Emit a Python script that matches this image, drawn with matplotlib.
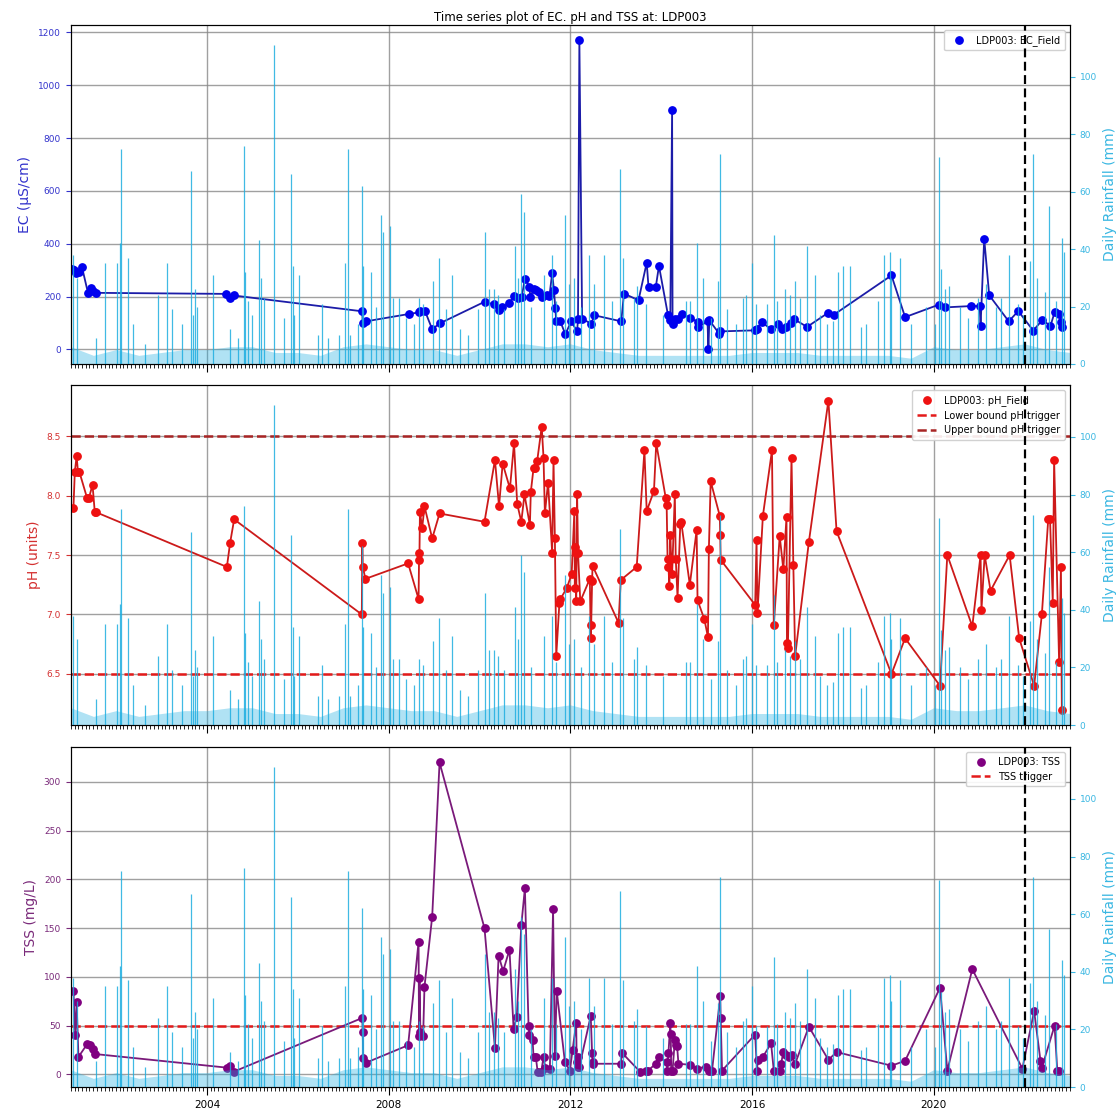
import matplotlib
matplotlib.use('Agg')
import matplotlib.pyplot as plt
import matplotlib.dates as mdates
from datetime import datetime, timedelta

# ---------------- data (decimal years) ----------------
ec_years = [2001.03, 2001.07, 2001.12, 2001.18, 2001.25, 2001.38, 2001.45, 2001.49, 2001.55,
            2004.43, 2004.51, 2004.59, 2007.42, 2007.43, 2007.50, 2008.45, 2008.67, 2008.70,
            2008.80, 2008.96, 2009.12, 2010.11, 2010.33, 2010.44, 2010.50, 2010.66, 2010.76,
            2010.84, 2010.93, 2011.00, 2011.10, 2011.12, 2011.20, 2011.25, 2011.30, 2011.37,
            2011.48, 2011.54, 2011.60, 2011.64, 2011.67, 2011.69, 2011.78, 2011.89, 2012.02,
            2012.15, 2012.17, 2012.20, 2012.26, 2012.46, 2012.53, 2013.12, 2013.18, 2013.50,
            2013.68, 2013.72, 2013.88, 2013.95, 2014.15, 2014.20, 2014.24, 2014.25, 2014.30,
            2014.38, 2014.45, 2014.64, 2014.80, 2014.82, 2015.02, 2015.04, 2015.06, 2015.28,
            2015.30, 2016.07, 2016.10, 2016.22, 2016.41, 2016.57, 2016.66, 2016.75, 2016.86,
            2016.93, 2017.21, 2017.68, 2017.80, 2019.07, 2019.37, 2020.11, 2020.26, 2020.83,
            2021.01, 2021.03, 2021.11, 2021.22, 2021.65, 2021.86, 2022.19, 2022.39, 2022.57,
            2022.66, 2022.76, 2022.81, 2022.83]
ec_values = [305, 300, 290, 292, 310, 214, 233, 220, 214,
             210, 194, 204, 144, 98, 106, 134, 140, 146,
             146, 76, 98, 180, 170, 150, 159, 177, 201,
             195, 200, 266, 238, 198, 230, 224, 217, 198,
             204, 202, 288, 224, 155, 106, 106, 57, 106,
             68, 116, 1170, 116, 97, 129, 106, 211, 186,
             328, 236, 236, 316, 129, 110, 908, 97, 116,
             116, 135, 119, 104, 85, 106, 3, 110, 59,
             68, 72, 78, 104, 76, 97, 78, 85, 101,
             114, 85, 139, 131, 280, 122, 169, 159, 164,
             164, 88, 419, 205, 106, 145, 71, 111, 89,
             140, 134, 102, 83]

ph_years = [2001.06, 2001.09, 2001.13, 2001.16, 2001.19, 2001.36, 2001.40, 2001.48, 2001.53, 2001.56,
            2004.44, 2004.51, 2004.60, 2007.41, 2007.42, 2007.43, 2007.49, 2008.43, 2008.66, 2008.67,
            2008.68, 2008.69, 2008.74, 2008.79, 2008.96, 2009.12, 2010.11, 2010.34, 2010.43, 2010.51,
            2010.67, 2010.76, 2010.83, 2010.92, 2010.99, 2011.11, 2011.13, 2011.19, 2011.23, 2011.27,
            2011.37, 2011.41, 2011.44, 2011.51, 2011.60, 2011.63, 2011.66, 2011.69, 2011.76, 2011.78,
            2011.92, 2012.03, 2012.09, 2012.10, 2012.11, 2012.12, 2012.13, 2012.15, 2012.17, 2012.22,
            2012.43, 2012.45, 2012.46, 2012.48, 2012.49, 2013.06, 2013.11, 2013.46, 2013.63, 2013.68,
            2013.84, 2013.89, 2014.10, 2014.12, 2014.14, 2014.16, 2014.18, 2014.20, 2014.22, 2014.24,
            2014.30, 2014.32, 2014.36, 2014.42, 2014.44, 2014.63, 2014.78, 2014.80, 2014.95, 2015.03,
            2015.05, 2015.09, 2015.29, 2015.30, 2015.31, 2016.07, 2016.10, 2016.12, 2016.24, 2016.44,
            2016.48, 2016.61, 2016.69, 2016.76, 2016.77, 2016.79, 2016.87, 2016.91, 2016.95, 2017.25,
            2017.68, 2017.86, 2019.07, 2019.37, 2020.14, 2020.30, 2020.85, 2021.03, 2021.05, 2021.12,
            2021.25, 2021.67, 2021.88, 2022.21, 2022.38, 2022.52, 2022.56, 2022.62, 2022.65, 2022.76,
            2022.80, 2022.82]
ph_values = [7.90, 8.20, 8.33, 8.20, 8.20, 7.98, 7.98, 8.09, 7.86, 7.86,
             7.40, 7.60, 7.80, 7.00, 7.60, 7.40, 7.30, 7.43, 7.13, 7.46,
             7.52, 7.86, 7.73, 7.91, 7.64, 7.85, 7.78, 8.30, 7.91, 8.27,
             8.06, 8.44, 7.93, 7.78, 8.01, 7.75, 8.03, 8.23, 8.23, 8.29,
             8.58, 8.32, 7.85, 8.11, 7.52, 8.30, 7.64, 6.65, 7.10, 7.13,
             7.22, 7.34, 7.87, 7.22, 7.57, 7.52, 7.11, 8.01, 7.52, 7.11,
             7.30, 6.80, 6.91, 7.28, 7.41, 6.93, 7.29, 7.40, 8.38, 7.87,
             8.04, 8.44, 7.98, 7.92, 7.47, 7.40, 7.24, 7.67, 7.47, 7.34,
             8.01, 7.47, 7.14, 7.76, 7.78, 7.25, 7.71, 7.12, 6.96, 6.81,
             7.55, 8.12, 7.83, 7.67, 7.46, 7.08, 7.63, 7.01, 7.83, 8.38,
             6.91, 7.66, 7.38, 7.82, 6.76, 6.72, 8.32, 7.42, 6.65, 7.61,
             8.80, 7.70, 6.50, 6.80, 6.40, 7.50, 6.90, 7.50, 7.04, 7.50,
             7.20, 7.50, 6.80, 6.40, 7.00, 7.80, 7.80, 7.10, 8.30, 6.60,
             7.40, 6.20]

tss_years = [2001.06, 2001.10, 2001.13, 2001.17, 2001.36, 2001.42, 2001.48, 2001.53,
             2004.44, 2004.51, 2004.60, 2007.42, 2007.43, 2007.44, 2007.50, 2008.43, 2008.66,
             2008.67, 2008.68, 2008.70, 2008.76, 2008.79, 2008.96, 2009.12, 2010.11, 2010.34,
             2010.42, 2010.52, 2010.66, 2010.75, 2010.82, 2010.92, 2011.00, 2011.08, 2011.10,
             2011.17, 2011.19, 2011.24, 2011.28, 2011.36, 2011.41, 2011.45, 2011.55, 2011.62,
             2011.66, 2011.70, 2011.88, 2011.99, 2012.05, 2012.13, 2012.14, 2012.16, 2012.18,
             2012.20, 2012.45, 2012.48, 2012.49, 2012.50, 2013.11, 2013.14, 2013.53, 2013.67,
             2013.71, 2013.88, 2013.94, 2014.12, 2014.13, 2014.16, 2014.20, 2014.21, 2014.22,
             2014.25, 2014.30, 2014.33, 2014.35, 2014.38, 2014.63, 2014.79, 2014.98, 2015.06,
             2015.12, 2015.30, 2015.31, 2015.34, 2016.07, 2016.11, 2016.13, 2016.24, 2016.42,
             2016.48, 2016.61, 2016.64, 2016.69, 2016.75, 2016.81, 2016.87, 2016.95, 2017.25,
             2017.68, 2017.86, 2019.07, 2019.37, 2020.14, 2020.30, 2020.85, 2021.95, 2022.21,
             2022.35, 2022.38, 2022.66, 2022.72, 2022.76]
tss_values = [86, 40, 74, 18, 31, 30, 26, 21,
              7, 9, 3, 58, 44, 17, 12, 30, 136,
              39, 99, 44, 39, 90, 162, 320, 150, 27,
              122, 106, 128, 47, 59, 153, 191, 50, 40,
              35, 18, 18, 3, 3, 18, 7, 6, 170,
              19, 86, 13, 4, 25, 53, 13, 18, 8,
              8, 60, 22, 13, 11, 11, 22, 3, 4,
              4, 11, 18, 13, 4, 22, 53, 42, 4,
              4, 35, 30, 29, 11, 10, 6, 8, 4,
              4, 80, 58, 4, 41, 4, 15, 18, 32,
              4, 4, 11, 23, 20, 18, 20, 11, 49,
              15, 23, 9, 14, 89, 4, 108, 6, 65,
              14, 7, 50, 4, 4]

rain_years = [2001.06, 2001.14, 2001.55, 2001.75, 2002.02, 2002.08, 2002.11, 2002.27, 2002.38,
              2002.64, 2002.92, 2003.13, 2003.23, 2003.45, 2003.64, 2003.69, 2003.74, 2003.79,
              2004.13, 2004.50, 2004.68, 2004.82, 2004.84, 2004.90, 2004.99, 2005.14, 2005.19,
              2005.26, 2005.48, 2005.69, 2005.84, 2005.89, 2005.92, 2006.03, 2006.44, 2006.54,
              2006.66, 2006.91, 2007.05, 2007.10, 2007.16, 2007.32, 2007.42, 2007.44, 2007.62,
              2007.72, 2007.83, 2007.88, 2008.02, 2008.10, 2008.22, 2008.38, 2008.57, 2008.66,
              2008.75, 2008.98, 2009.10, 2009.26, 2009.39, 2009.56, 2009.74, 2009.96, 2010.11,
              2010.22, 2010.33, 2010.40, 2010.55, 2010.78, 2010.84, 2010.92, 2010.97, 2011.14,
              2011.42, 2011.60, 2011.69, 2011.89, 2011.97, 2012.09, 2012.24, 2012.41, 2012.52,
              2012.74, 2012.91, 2013.10, 2013.15, 2013.41, 2013.47, 2013.67, 2014.04, 2014.55,
              2014.64, 2014.79, 2014.93, 2015.10, 2015.25, 2015.30, 2015.45, 2015.65, 2015.81,
              2015.87, 2016.00, 2016.09, 2016.33, 2016.48, 2016.55, 2016.72, 2016.83, 2016.95,
              2017.05, 2017.22, 2017.38, 2017.49, 2017.64, 2017.78, 2017.89, 2018.00, 2018.15,
              2018.40, 2018.50, 2018.77, 2018.90, 2019.04, 2019.06, 2019.26, 2019.51, 2019.82,
              2020.02, 2020.11, 2020.17, 2020.24, 2020.33, 2020.58, 2020.75, 2020.98, 2021.16,
              2021.38, 2021.47, 2021.65, 2021.86, 2021.97, 2022.12, 2022.19, 2022.28, 2022.45,
              2022.54, 2022.70, 2022.82, 2022.86]
rain_mm = [38, 30, 9, 35, 35, 42, 75, 37, 14,
           7, 24, 35, 19, 14, 67, 17, 26, 20,
           31, 12, 9, 76, 32, 22, 17, 43, 30,
           23, 111, 16, 66, 34, 17, 31, 10, 21,
           9, 10, 35, 75, 10, 14, 62, 34, 32,
           20, 52, 46, 48, 23, 23, 16, 14, 23,
           21, 29, 37, 19, 31, 12, 10, 19, 46,
           26, 26, 24, 19, 41, 30, 59, 53, 20,
           31, 38, 22, 52, 28, 30, 20, 38, 28,
           38, 22, 68, 37, 23, 27, 21, 17, 22,
           22, 42, 30, 16, 29, 73, 19, 14, 23,
           24, 35, 21, 21, 45, 22, 26, 24, 29,
           23, 41, 31, 17, 14, 15, 32, 34, 34,
           13, 14, 22, 38, 39, 30, 37, 14, 20,
           14, 72, 33, 26, 27, 20, 16, 23, 28,
           20, 23, 38, 21, 17, 36, 73, 30, 25,
           55, 22, 44, 39]

# dense low-rainfall band (typical daily heights per half-year, mm)
band_years = [2001.0 + 0.5 * i for i in range(45)]
band_mm = [6, 3, 5, 3, 4, 5, 5, 6, 6, 4, 4, 3, 6, 7, 6, 5, 5, 3, 5, 7, 7, 6, 7, 5,
           4, 3, 3, 3, 3, 3, 4, 4, 4, 3, 3, 3, 3, 2, 6, 5, 5, 6, 7, 5, 4]

ph_low, ph_high, tss_trigger = 6.5, 8.5, 50
cutoff_year = 2022.0


def to_date(y):
    yr = int(y)
    return datetime(yr, 1, 1) + timedelta(days=(y - yr) * 365.25)


ec_d = [to_date(y) for y in ec_years]
ph_d = [to_date(y) for y in ph_years]
tss_d = [to_date(y) for y in tss_years]
rain_d = [to_date(y) for y in rain_years]
band_d = [to_date(y) for y in band_years]
cut_d = to_date(cutoff_year)

RAIN = '#1eaee0'
RAIN_TXT = '#3ab7e2'

fig = plt.figure(figsize=(11.19, 11.11), dpi=100)
L, W = 0.0632, 0.893
rects = [(L, 0.6724, W, 0.3051), (L, 0.3474, W, 0.306), (L, 0.0216, W, 0.306)]
axes = [fig.add_axes(r) for r in rects]

specs = [
    dict(d=ec_d, v=ec_values, mc='#0000ee', lc='#1c1ca8', lab='EC (µS/cm)', tc='#3333cc',
         leg='LDP003: EC_Field'),
    dict(d=ph_d, v=ph_values, mc='#ee1111', lc='#cc1a1a', lab='pH (units)', tc='#d43030',
         leg='LDP003: pH_Field'),
    dict(d=tss_d, v=tss_values, mc='#800080', lc='#7a1a7a', lab='TSS (mg/L)', tc='#7a2a7a',
         leg='LDP003: TSS'),
]

for i, (ax, s) in enumerate(zip(axes, specs)):
    ax.plot(s['d'], s['v'], color=s['lc'], lw=1.3, zorder=3)
    ax.scatter(s['d'], s['v'], color=s['mc'], s=28, zorder=4, label=s['leg'])
    if i == 1:
        ax.axhline(ph_low, color='#e41a1a', ls='--', lw=1.8, label='Lower bound pH trigger')
        ax.axhline(ph_high, color='#a82424', ls='--', lw=1.8, label='Upper bound pH trigger')
    if i == 2:
        ax.axhline(tss_trigger, color='#e41a1a', ls='--', lw=1.8, label='TSS trigger')
    ax.set_xlim(datetime(2001, 1, 1), datetime(2023, 1, 1))
    ax.grid(True, color='#888888', lw=1.0, alpha=0.8)
    ax.set_ylabel(s['lab'], color=s['tc'], fontsize=10)
    ax.tick_params(axis='y', colors=s['tc'], labelsize=6.5)
    ax.xaxis.set_major_locator(mdates.YearLocator(4))
    ax.xaxis.set_minor_locator(mdates.MonthLocator())
    ax.xaxis.set_major_formatter(mdates.DateFormatter('%Y'))
    ax.tick_params(axis='x', which='major', length=6, labelsize=7.5)
    ax.tick_params(axis='x', which='minor', length=3)
    if i < 2:
        ax.tick_params(axis='x', labelbottom=False)
    ax.legend(loc='upper right', fontsize=7, framealpha=0.9, borderpad=0.5)

    ax2 = ax.twinx()
    ax2.fill_between(band_d, 0, band_mm, color=RAIN, alpha=0.35, lw=0)
    ax2.vlines(rain_d, 0, rain_mm, colors=RAIN, lw=0.9, alpha=0.85)
    ax2.axvline(cut_d, color='black', ls=(0, (4, 2)), lw=1.6)
    ax2.set_ylim(0, 118)
    ax2.set_xlim(datetime(2001, 1, 1), datetime(2023, 1, 1))
    ax2.set_ylabel('Daily Rainfall (mm)', color=RAIN_TXT, fontsize=10)
    ax2.tick_params(axis='y', colors=RAIN_TXT, labelsize=6.5)

axes[0].set_title('Time series plot of EC. pH and TSS at: LDP003', fontsize=8.5, pad=3)

fig.savefig('out.png', dpi=100)
